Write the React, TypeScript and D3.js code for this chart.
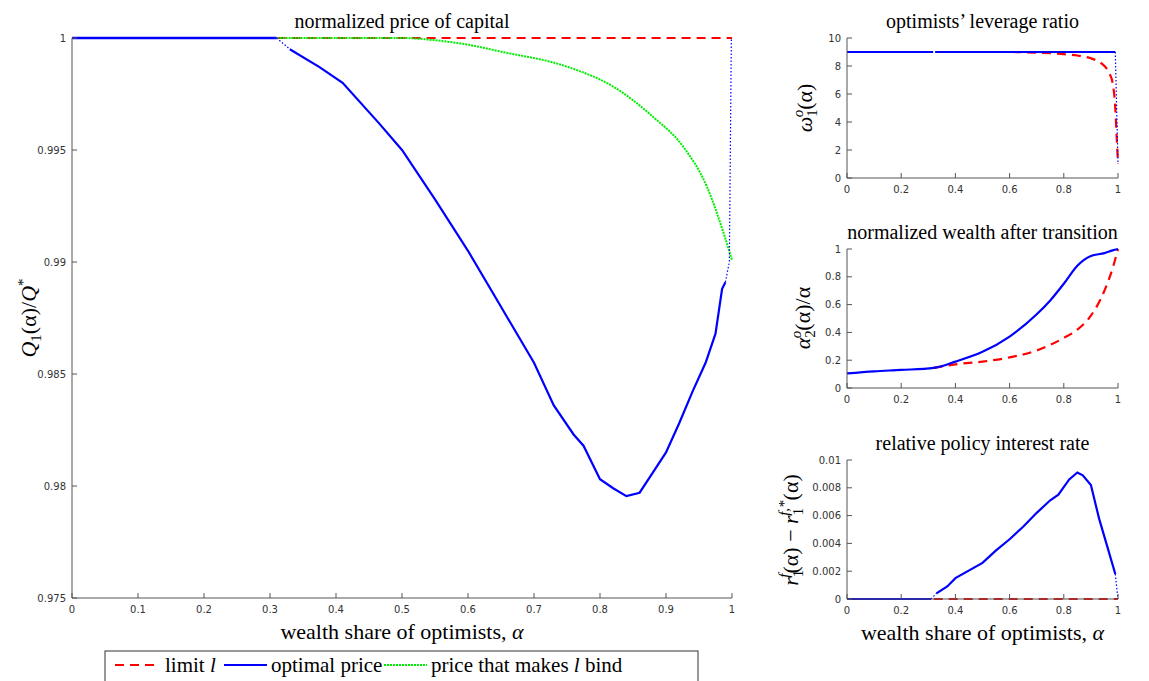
import * as d3 from 'd3';

// main panel data
const optX = [0, 0.31, 0.33, 0.375, 0.41, 0.465, 0.5, 0.55, 0.6, 0.65, 0.7, 0.73, 0.76, 0.775, 0.8, 0.82, 0.84, 0.86, 0.88, 0.9, 0.92, 0.94, 0.96, 0.975, 0.985, 0.99];
const optY = [1, 1, 0.9995, 0.9987, 0.998, 0.9962, 0.995, 0.9928, 0.9905, 0.988, 0.9855, 0.9836, 0.9823, 0.9818, 0.9803, 0.9799, 0.97955, 0.9797, 0.9806, 0.9815, 0.9828, 0.9842, 0.9855, 0.9868, 0.9888, 0.9891];
const bindX = [0.31, 0.5, 0.55, 0.6, 0.65, 0.75, 0.82, 0.88, 0.926, 0.962, 0.989, 1];
const bindY = [1, 1, 0.9999, 0.9997, 0.99939, 0.99872, 0.99783, 0.99649, 0.99515, 0.99336, 0.99113, 0.99009];
const limX = [0.31, 1];
const limY = [1, 1];
const mainYTicks = [0.975, 0.98, 0.985, 0.99, 0.995, 1];
const mainXTicks = [0, 0.1, 0.2, 0.3, 0.4, 0.5, 0.6, 0.7, 0.8, 0.9, 1];

// leverage
const levRedX = [0, 0.6, 0.7, 0.8, 0.85, 0.9, 0.93, 0.95, 0.97, 0.98, 0.99, 0.995, 1];
const levRedY = [9, 9, 8.95, 8.85, 8.75, 8.55, 8.3, 8.0, 7.4, 6.8, 5, 3, 1];
// wealth
const wBlueX = [0, 0.1, 0.2, 0.32, 0.4, 0.5, 0.6, 0.7, 0.75, 0.8, 0.85, 0.9, 0.95, 0.98, 1];
const wBlueY = [0.105, 0.12, 0.13, 0.145, 0.19, 0.26, 0.37, 0.53, 0.63, 0.75, 0.88, 0.95, 0.97, 0.99, 1];
const wRedX = [0.32, 0.4, 0.5, 0.6, 0.7, 0.8, 0.85, 0.9, 0.95, 0.98, 1];
const wRedY = [0.145, 0.17, 0.19, 0.22, 0.27, 0.36, 0.42, 0.52, 0.7, 0.86, 1];
// rates
const rBlueX = [0.33, 0.37, 0.4, 0.5, 0.55, 0.6, 0.65, 0.7, 0.75, 0.78, 0.82, 0.85, 0.87, 0.9, 0.93, 0.96, 0.99];
const rBlueY = [0.0004, 0.0009, 0.0015, 0.0026, 0.0035, 0.0043, 0.0052, 0.0062, 0.0071, 0.0075, 0.0086, 0.0091, 0.0089, 0.0082, 0.0058, 0.0038, 0.0018];
const smallXTicks = [0, 0.2, 0.4, 0.6, 0.8, 1];

const serif = "'Liberation Serif', serif";
const sans = "'DejaVu Sans', sans-serif";
const BLUE = '#0000ff', RED = '#ff0000', GREEN = '#00ee00';

type S = { xs: number[]; ys: number[]; color: string; dash?: string; w?: number; smooth?: boolean };

function Panel(p: {
  x0: number; x1: number; y0: number; y1: number; yDomain: [number, number];
  yTicks: number[]; xTicks: number[]; title: string; ylabel: JSX.Element; xlabel?: boolean;
  series: S[]; fs?: number;
}) {
  const x = d3.scaleLinear().domain([0, 1]).range([p.x0, p.x1]);
  const y = d3.scaleLinear().domain(p.yDomain).range([p.y1, p.y0]);
  const fmt = (v: number) => String(+v.toFixed(4));
  const fs = p.fs ?? 10;
  return (
    <g>
      {p.series.map((s, i) => {
        const line = d3.line<number>().x((_, j) => x(s.xs[j])).y(d => y(d));
        if (s.smooth) line.curve(d3.curveMonotoneX);
        return <path key={i} d={line(s.ys) ?? ''} fill="none" stroke={s.color} strokeWidth={s.w ?? 2.2} strokeDasharray={s.dash} />;
      })}
      <line x1={p.x0} x2={p.x0} y1={p.y0} y2={p.y1} stroke="#555" />
      <line x1={p.x0} x2={p.x1} y1={p.y1} y2={p.y1} stroke="#555" />
      {p.yTicks.map(t => (
        <g key={'y' + t}>
          <line x1={p.x0} x2={p.x0 + 5} y1={y(t)} y2={y(t)} stroke="#555" />
          <text x={p.x0 - 6} y={y(t)} dy="0.35em" textAnchor="end" fontSize={fs} fill="#333" fontFamily={sans}>{fmt(t)}</text>
        </g>
      ))}
      {p.xTicks.map(t => (
        <g key={'x' + t}>
          <line x1={x(t)} x2={x(t)} y1={p.y1} y2={p.y1 - 5} stroke="#555" />
          <text x={x(t)} y={p.y1 + 15} textAnchor="middle" fontSize={fs} fill="#333" fontFamily={sans}>{fmt(t)}</text>
        </g>
      ))}
      <text x={(p.x0 + p.x1) / 2} y={p.y0 - 10} textAnchor="middle" fontSize={20} fontFamily={serif}>{p.title}</text>
      {p.ylabel}
      {p.xlabel && (
        <text x={(p.x0 + p.x1) / 2} y={p.y1 + 41} textAnchor="middle" fontSize={22} fontFamily={serif}>
          wealth share of optimists, <tspan fontStyle="italic">α</tspan>
        </text>
      )}
    </g>
  );
}

function yl(cx: number, cy: number, content: JSX.Element) {
  return (
    <text transform={`translate(${cx},${cy}) rotate(-90)`} textAnchor="middle" fontSize={22} fontFamily={serif} fontStyle="italic">{content}</text>
  );
}

export default function App() {
  const dashed = '9,6';
  const dotted = '1.5,2';
  return (
    <svg width={1149} height={681} style={{ position: 'absolute', left: 0, top: 0 }}>
      <rect width={1149} height={681} fill="white" />
      <Panel x0={72} x1={732} y0={38} y1={598} yDomain={[0.975, 1]} yTicks={mainYTicks} xTicks={mainXTicks}
        title="normalized price of capital" xlabel
        ylabel={yl(36, 318, <>Q<tspan fontSize={15} dy={5} fontStyle="normal">1</tspan><tspan dy={-5} fontStyle="normal">(α)/</tspan>Q<tspan fontSize={15} dy={-8} fontStyle="normal">*</tspan></>)}
        series={[
          { xs: limX, ys: limY, color: RED, dash: dashed },
          { xs: bindX, ys: bindY, color: GREEN, dash: '2,1', w: 2, smooth: true },
          { xs: optX.slice(0, 2), ys: optY.slice(0, 2), color: BLUE, w: 2.6 },
          { xs: optX.slice(1, 3), ys: optY.slice(1, 3), color: BLUE, dash: dotted, w: 1.2 },
          { xs: optX.slice(2), ys: optY.slice(2), color: BLUE },
          { xs: [0.99, 0.996, 0.999], ys: [0.9891, 0.99, 1], color: BLUE, dash: dotted, w: 1.2 },
        ]} />
      <Panel x0={847} x1={1118} y0={38} y1={178} yDomain={[0, 10]} yTicks={[0, 2, 4, 6, 8, 10]} xTicks={smallXTicks}
        title="optimists’ leverage ratio"
        ylabel={yl(812, 108, <>ω<tspan fontSize={15} dy={5} fontStyle="normal">1</tspan><tspan fontSize={15} dx={-8} dy={-14}>o</tspan><tspan dy={9} fontStyle="normal">(α)</tspan></>)}
        series={[
          { xs: levRedX, ys: levRedY, color: RED, dash: dashed, smooth: true },
          { xs: [0, 0.318], ys: [9, 9], color: BLUE },
          { xs: [0.325, 0.99], ys: [9, 9], color: BLUE },
          { xs: [0.99, 1], ys: [9, 1], color: BLUE, dash: dotted, w: 1.2 },
        ]} />
      <Panel x0={847} x1={1118} y0={249} y1={388} yDomain={[0, 1]} yTicks={[0, 0.2, 0.4, 0.6, 0.8, 1]} xTicks={smallXTicks}
        title="normalized wealth after transition"
        ylabel={yl(810, 318, <>α<tspan fontSize={15} dy={5} fontStyle="normal">2</tspan><tspan fontSize={15} dx={-8} dy={-14}>o</tspan><tspan dy={9} fontStyle="normal">(α)/α</tspan></>)}
        series={[
          { xs: wRedX, ys: wRedY, color: RED, dash: dashed, smooth: true },
          { xs: wBlueX, ys: wBlueY, color: BLUE, smooth: true },
        ]} />
      <Panel x0={847} x1={1118} y0={460} y1={599} yDomain={[0, 0.01]} yTicks={[0, 0.002, 0.004, 0.006, 0.008, 0.01]} xTicks={smallXTicks}
        title="relative policy interest rate" xlabel
        ylabel={yl(798, 530, <>r<tspan fontSize={15} dy={5} fontStyle="normal">1</tspan><tspan fontSize={15} dx={-8} dy={-14}>f</tspan><tspan dy={9} fontStyle="normal">(α) − </tspan>r<tspan fontSize={15} dy={5} fontStyle="normal">1</tspan><tspan fontSize={15} dx={-8} dy={-14}>f,*</tspan><tspan dy={9} fontStyle="normal">(α)</tspan></>)}
        series={[
          { xs: [0.32, 1], ys: [0, 0], color: RED, dash: dashed },
          { xs: [0, 0.31], ys: [0, 0], color: BLUE },
          { xs: [0.31, 0.33], ys: [0, 0.0004], color: BLUE, dash: dotted, w: 1.2 },
          { xs: rBlueX, ys: rBlueY, color: BLUE },
          { xs: [0.99, 1], ys: [0.0018, 0], color: BLUE, dash: dotted, w: 1.2 },
        ]} />
      {/* legend */}
      <g>
        <rect x={105} y={651} width={593} height={32} fill="white" stroke="#333" />
        <line x1={115} x2={158} y1={665} y2={665} stroke={RED} strokeWidth={2.2} strokeDasharray={dashed} />
        <text x={165} y={672} fontSize={21} fontFamily={serif}>limit <tspan fontStyle="italic">l</tspan></text>
        <line x1={224} x2={267} y1={665} y2={665} stroke={BLUE} strokeWidth={2.2} />
        <text x={271} y={672} fontSize={21} fontFamily={serif}>optimal price</text>
        <line x1={384} x2={427} y1={665} y2={665} stroke={GREEN} strokeWidth={2} strokeDasharray="2,1" />
        <text x={431} y={672} fontSize={21} fontFamily={serif}>price that makes <tspan fontStyle="italic">l</tspan> bind</text>
      </g>
    </svg>
  );
}
